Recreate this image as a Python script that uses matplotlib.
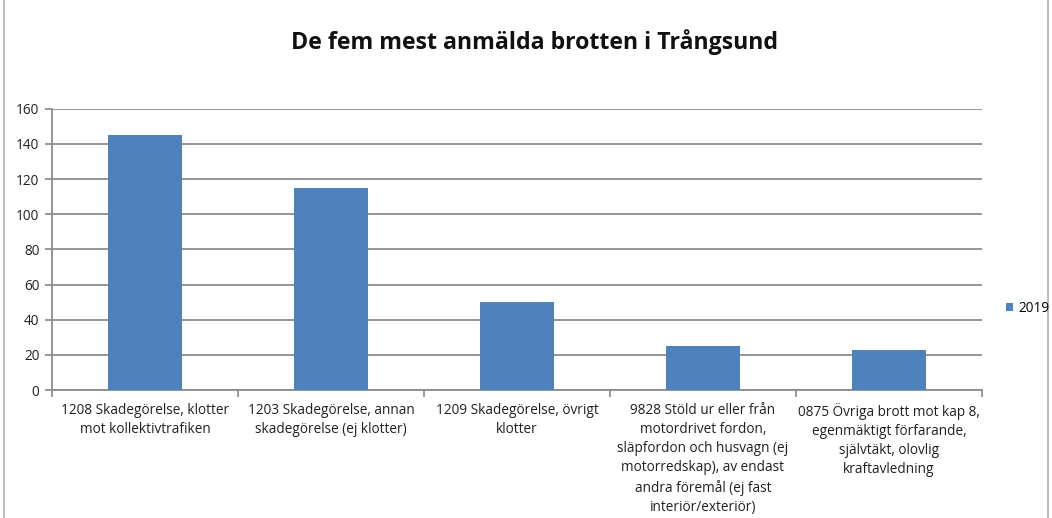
import matplotlib
matplotlib.use("Agg")
import matplotlib.pyplot as plt
import numpy as np
from matplotlib.patches import Rectangle

categories = [
    "1208 Skadegörelse, klotter\nmot kollektivtrafiken",
    "1203 Skadegörelse, annan\nskadegörelse (ej klotter)",
    "1209 Skadegörelse, övrigt\nklotter",
    "9828 Stöld ur eller från\nmotordrivet fordon,\nsläpfordon och husvagn (ej\nmotorredskap), av endast\nandra föremål (ej fast\ninteriör/exteriör)",
    "0875 Övriga brott mot kap 8,\negenmäktigt förfarande,\nsjälvtäkt, olovlig\nkraftavledning",
]
values_2019 = [145, 115, 50, 25, 23]
series_name = "2019"
title = "De fem mest anmälda brotten i Trångsund"
yticks = [0, 20, 40, 60, 80, 100, 120, 140, 160]

plt.rcParams['font.family'] = ['Open Sans', 'DejaVu Sans']

fig = plt.figure(figsize=(10.52, 5.18), dpi=100)
ax = fig.add_axes([0.0494, 0.247, 0.884, 0.543])

x = np.arange(len(categories))
bar_color = "#4F81BD"
ax.bar(x, values_2019, width=0.4, color=bar_color, label=series_name, zorder=3)

ax.set_xlim(-0.5, len(categories) - 0.5)
ax.set_ylim(0, 160)
ax.set_yticks(yticks)
ax.set_yticklabels([str(v) for v in yticks], fontsize=9.8, color="#202020")
ax.set_xticks(x)
ax.set_xticklabels(categories, fontsize=9.8, color="#202020", linespacing=1.38)
ax.set_xticks(np.arange(len(categories) + 1) - 0.5, minor=True)
ax.tick_params(axis='x', which='major', length=0, pad=9)
ax.tick_params(axis='x', which='minor', length=5, color="#888888", width=1.2)
ax.tick_params(axis='y', length=5, color="#888888", width=1.2, pad=4)

ax.grid(axis='y', color="#8c8c8c", linewidth=1.3, zorder=0)
for s in ['top', 'right']:
    ax.spines[s].set_visible(False)
for s in ['left', 'bottom']:
    ax.spines[s].set_color("#8c8c8c")
    ax.spines[s].set_linewidth(1.3)

fig.text(0.508, 0.918, title, ha='center', va='center', fontsize=16.7, fontweight='bold', color="#111111")

leg = fig.legend(loc='center left', bbox_to_anchor=(0.956, 0.405), frameon=False,
                 fontsize=9.8, handlelength=0.55, handleheight=0.55, handletextpad=0.35,
                 borderpad=0, borderaxespad=0)

fig.patches.append(Rectangle((0.004, -0.01), 0.992, 1.02, transform=fig.transFigure,
                             fill=False, edgecolor="#b0b0b0", linewidth=1.2))

fig.savefig("out.png", dpi=100)
